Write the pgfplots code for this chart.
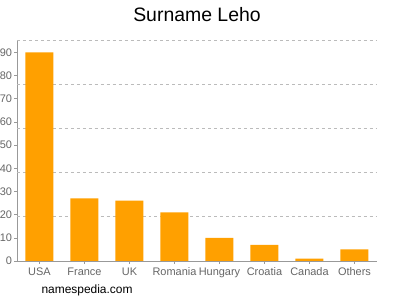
\documentclass[border=0pt]{standalone}
\usepackage{fontspec}
\setmainfont{Liberation Sans}
\usepackage{pgfplots}
\pgfplotsset{compat=1.18}
\definecolor{barorange}{HTML}{FFA000}
\definecolor{axisgray}{HTML}{999999}
\definecolor{gridgray}{HTML}{BBBBBB}
\definecolor{labelgray}{HTML}{666666}
\begin{document}
\begin{tikzpicture}[x=1bp,y=1bp]
\useasboundingbox (0,0) rectangle (400,300);
\node[font=\fontsize{19.5}{22}\selectfont] at (197,285.5) {Surname Leho};
\node[font=\fontsize{12}{14}\selectfont, anchor=west] at (38,9.5) {namespedia.com};
\begin{axis}[
  at={(17bp,39bp)}, anchor=south west,
  scale only axis, width=360bp, height=221bp,
  xmin=-0.5, xmax=7.5, ymin=0, ymax=95.3,
  axis x line*=bottom, axis y line*=left,
  axis line style={axisgray, line width=0.8pt, -},
  xtick=data,
  xticklabels={USA,France,UK,Romania,Hungary,Croatia,Canada,Others},
  ytick={0,10,...,90},
  extra y ticks={19.06,38.12,57.18,76.24,95.3},
  extra y tick labels={},
  extra y tick style={grid=major, major tick length=0pt, grid style={dashed, gridgray, line width=0.6pt}},
  tick style={axisgray, line width=0.6pt},
  major tick length=3bp,
  tick align=outside,
  xtick pos=bottom, ytick pos=left,
  ticklabel style={font=\fontsize{11}{13}\selectfont, text=labelgray},
  /pgf/number format/assume math mode=true,
  yticklabel style={xshift=1.5bp},
  xticklabel style={yshift=0bp},
  ybar, bar width=28bp,
]
\addplot[fill=barorange, draw=none] coordinates {
(0,90) (1,27) (2,26) (3,21) (4,10) (5,7) (6,1) (7,5)};
\end{axis}
\end{tikzpicture}
\end{document}
